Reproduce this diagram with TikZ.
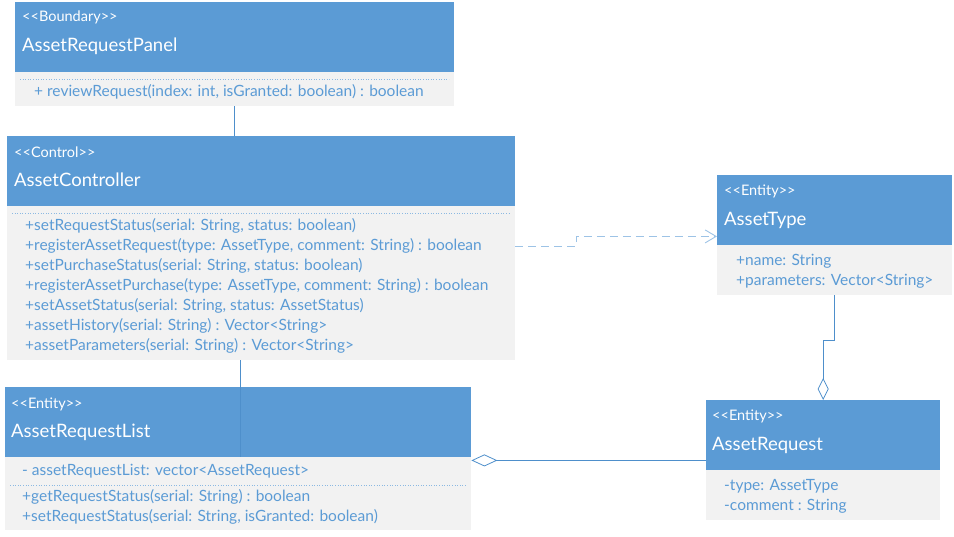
\documentclass[tikz,border=0pt]{standalone}
\usepackage{fontspec}
\setmainfont{Lato}[Ligatures=TeXOff]
\usetikzlibrary{arrows.meta}
\definecolor{headblue}{HTML}{5B9BD5}
\definecolor{bodygray}{HTML}{F2F2F2}
\definecolor{textblue}{HTML}{5B9BD5}
\definecolor{lineblue}{HTML}{4E8FCB}
\definecolor{dashblue}{HTML}{9DC3E6}
\tikzset{
  head/.style={fill=headblue,anchor=north west,inner sep=0pt},
  body/.style={fill=bodygray,anchor=north west,inner sep=0pt},
  stereo/.style={anchor=west,inner sep=0pt,text=white,font=\fontsize{14.5}{14.5}\selectfont},
  cname/.style={anchor=west,inner sep=0pt,text=white,font=\fontsize{18.5}{18.5}\selectfont},
  member/.style={anchor=west,inner sep=0pt,text=textblue,font=\fontsize{15.5}{15.5}\selectfont},
  sep/.style={draw=textblue!70,dotted,line width=.6pt},
  link/.style={draw=lineblue,line width=.8pt},
  dep/.style={draw=dashblue,line width=.9pt,dash pattern=on 8pt off 5pt,-{Straight Barb[length=11pt,width=13pt]}},
}
\begin{document}
\begin{tikzpicture}[x=1pt,y=-1pt]
	\useasboundingbox(0,0)rectangle(954,536);
	% AssetRequestPanel
	\node[head,minimum width=439pt,minimum height=70pt](p1h)at(15,2){};
	\node[body,minimum width=439pt,minimum height=34pt](p1b)at(15,72){};
	\node[stereo]at(22,17){<<Boundary>>};
	\node[cname]at(22,46){AssetRequestPanel};
	\draw[sep](20,79)--(449,79);
	\node[member]at(34,92){+ reviewRequest(index: int, isGranted: boolean) : boolean};
	% AssetController
	\node[head,minimum width=508pt,minimum height=70pt](p2h)at(7,136){};
	\node[body,minimum width=508pt,minimum height=154pt](p2b)at(7,206){};
	\node[stereo]at(14,152){<<Control>>};
	\node[cname]at(14,180){AssetController};
	\draw[sep](12,213)--(510,213);
	\foreach \t[count=\i from 0] in {
		{+setRequestStatus(serial: String, status: boolean)},
		{+registerAssetRequest(type: AssetType, comment: String) : boolean},
		{+setPurchaseStatus(serial: String, status: boolean)},
		{+registerAssetPurchase(type: AssetType, comment: String) : boolean},
		{+setAssetStatus(serial: String, status: AssetStatus)},
		{+assetHistory(serial: String) : Vector<String>},
		{+assetParameters(serial: String) : Vector<String>}}
		\node[member]at(25,226+20*\i){\t};
	% AssetType
	\node[head,minimum width=235pt,minimum height=70pt](p3h)at(717,175){};
	\node[body,minimum width=235pt,minimum height=50pt](p3b)at(717,245){};
	\node[stereo]at(724,191){<<Entity>>};
	\node[cname]at(724,220){AssetType};
	\node[member]at(736,261){+name: String};
	\node[member]at(736,281){+parameters: Vector<String>};
	% AssetRequestList
	\node[head,minimum width=466pt,minimum height=70pt](p4h)at(5,387){};
	\node[body,minimum width=466pt,minimum height=73pt](p4b)at(5,457){};
	\node[stereo]at(11,404){<<Entity>>};
	\node[cname]at(11,432){AssetRequestList};
	\node[member]at(22,471){- assetRequestList: vector<AssetRequest>};
	\draw[sep](10,485)--(466,485);
	\node[member]at(22,497){+getRequestStatus(serial: String) : boolean};
	\node[member]at(22,517){+setRequestStatus(serial: String, isGranted: boolean)};
	% AssetRequest
	\node[head,minimum width=234pt,minimum height=70pt](p5h)at(706,400){};
	\node[body,minimum width=234pt,minimum height=50pt](p5b)at(706,470){};
	\node[stereo]at(712,416){<<Entity>>};
	\node[cname]at(712,445){AssetRequest};
	\node[member]at(724,486){-type: AssetType};
	\node[member]at(724,506){-comment : String};
	% connectors
	\draw[link](p1b.south)--(p1b.south|-p2h.north);
	\draw[dep]([yshift=-40pt]p2b.north east)--++(61,0)|-([yshift=9pt]p3h.south west);
	\draw[link]([xshift=233pt]p2b.south west)--([xshift=235pt]p4h.south west);
	\draw[link,{Diamond[open,length=26pt,width=12pt]}-]([yshift=-3pt]p4h.south east)--([yshift=-3pt]p4h.south east-|p5h.west);
	\draw[link,-{Diamond[open,length=22pt,width=11pt]}](p3b.south)--++(0,45)-|(p5h.north);
\end{tikzpicture}
\end{document}
